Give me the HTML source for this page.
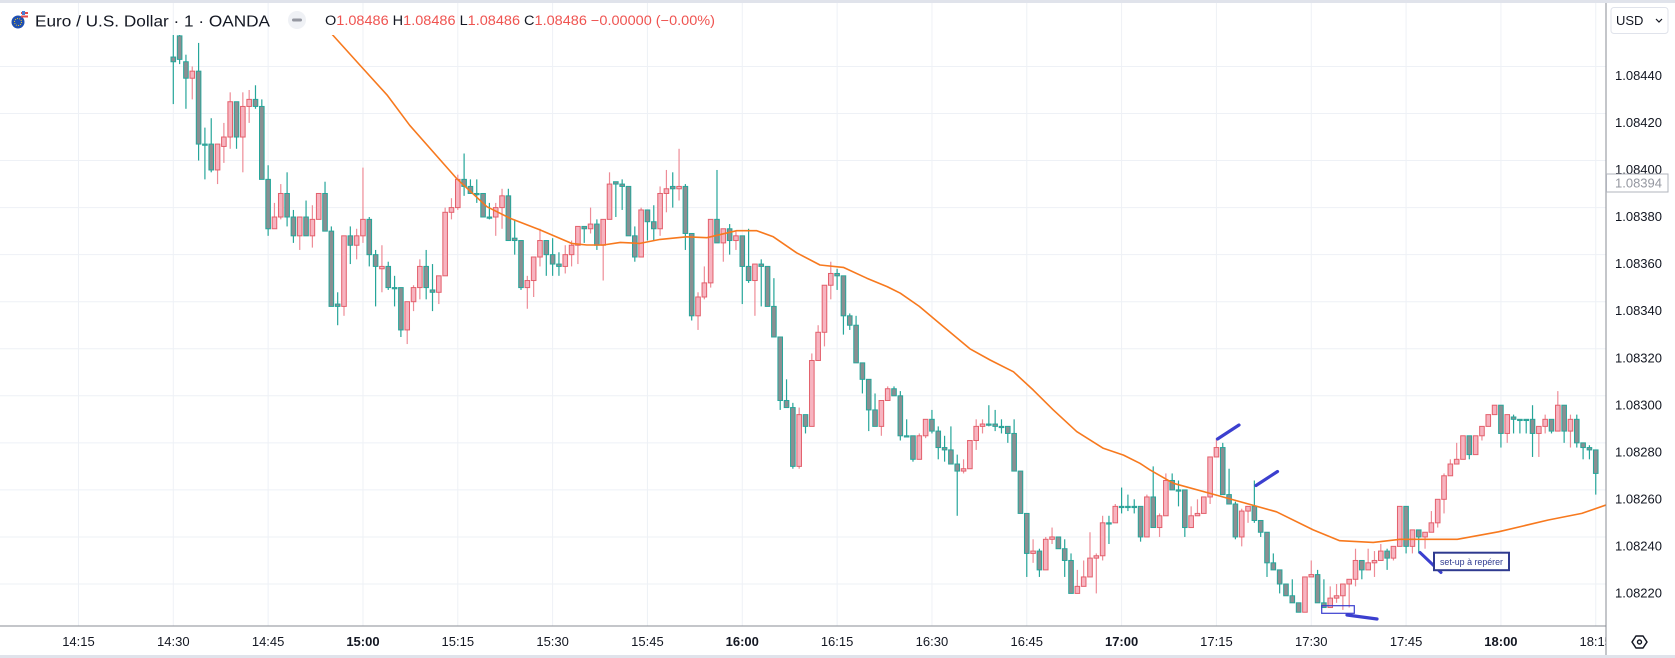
<!DOCTYPE html>
<html><head><meta charset="utf-8">
<style>
html,body{margin:0;padding:0;background:#fff;}
svg{display:block;font-family:"Liberation Sans",sans-serif;}
</style></head>
<body>
<svg id="chart" width="1675" height="658" viewBox="0 0 1675 658" xmlns="http://www.w3.org/2000/svg">
  <defs>
    <clipPath id="plotClip"><rect x="0" y="35" width="1606" height="591"/></clipPath>
    <clipPath id="timeClip"><rect x="0" y="626" width="1606" height="32"/></clipPath>
  </defs>
  <rect x="0" y="0" width="1675" height="658" fill="#ffffff"/>
  <rect x="0" y="0" width="1675" height="3" fill="#e0e3eb"/>
  <rect x="0" y="655" width="1675" height="3" fill="#e0e3eb"/>
  <g id="grid"></g>
  <g id="plot" clip-path="url(#plotClip)"></g>
  <g id="annot"></g>
  <line x1="0" y1="626" x2="1606" y2="626" stroke="#8a8d96" stroke-width="1"/>
  <line x1="1606" y1="3" x2="1606" y2="655" stroke="#8a8d96" stroke-width="1"/>
  <g id="ylabels"></g>
  <g id="xlabels" clip-path="url(#timeClip)"></g>

  <g>
    <g>
      <circle cx="18" cy="22" r="6.5" fill="#1e4fb0"/>
      <circle cx="18" cy="22" r="3.5" fill="none" stroke="#f3c623" stroke-width="1" stroke-dasharray="1 1.2"/>
      <path d="M21 12 h7 v2 h-7z M21 15.5 h7 v2 h-7z" fill="#e44a4a"/>
      <rect x="22" y="11" width="3" height="4" fill="#4a7bd6"/>
    </g>
    <text x="35" y="26.5" font-size="16" fill="#131722" textLength="235" lengthAdjust="spacingAndGlyphs">Euro / U.S. Dollar · 1 · OANDA</text>
    <circle cx="297" cy="20" r="9" fill="#eff1f5"/>
    <rect x="292" y="18.5" width="10" height="3" rx="1.5" fill="#9598a1"/>
    <text x="325" y="25" font-size="13.5" textLength="390" lengthAdjust="spacingAndGlyphs"><tspan fill="#131722">O</tspan><tspan fill="#ef5350">1.08486 </tspan><tspan fill="#131722">H</tspan><tspan fill="#ef5350">1.08486 </tspan><tspan fill="#131722">L</tspan><tspan fill="#ef5350">1.08486 </tspan><tspan fill="#131722">C</tspan><tspan fill="#ef5350">1.08486 −0.00000 (−0.00%)</tspan></text>
  </g>

  <g>
    <rect x="1611" y="7.5" width="57" height="26" rx="3" fill="#fff" stroke="#e0e3eb"/>
    <text x="1616" y="25" font-size="13" fill="#131722">USD</text>
    <path d="M1656 19 l3 3 l3 -3" fill="none" stroke="#131722" stroke-width="1.2"/>
  </g>
  <g>
    <rect x="1606.5" y="174" width="61.5" height="18" fill="#fff" stroke="#b2b5be" stroke-width="1"/>
    <text x="1615" y="187.5" font-size="13" fill="#9598a1">1.08394</text>
  </g>
  <g>
    <path d="M1632 642 l4 -6 h7 l4 6 l-4 6 h-7z" fill="none" stroke="#131722" stroke-width="1.5" stroke-linejoin="round"/>
    <circle cx="1639.5" cy="642" r="2" fill="none" stroke="#131722" stroke-width="1.4"/>
  </g>
</svg>
<script>
// ---- data (prices in 0.00001 units above BASE = 1.08220) ----
const BASE = 1.08220;
const startTime = "14:30";
const opens  = [224,233,222,215,218,187,187,176,186,190,205,190,203,206,203,172,151,156,166,156,148,156,148,155,166,150,119,118,148,144,148,155,140,134,135,126,126,108,120,126,135,125,124,131,158,160,172,169,166,166,156,156,160,165,147,146,126,129,139,146,140,136,135,140,144,152,151,153,144,155,171,170,169,148,139,159,154,151,166,169,168,169,149,114,122,128,155,145,151,146,148,135,129,136,135,118,105,78,75,50,72,67,95,107,127,132,131,114,110,94,87,74,67,78,83,80,63,63,53,63,70,65,58,57,51,48,49,61,67,68,68,67,67,64,48,30,13,14,6,19,20,15,10,-4,-1,3,11,12,26,26,33,33,33,33,20,37,24,29,44,40,40,24,29,30,37,54,58,38,34,20,31,33,27,22,9,6,0,-5,-8,-12,3,4,-8,-10,-6,-5,0,2,10,6,9,10,14,11,16,33,16,23,20,22,26,36,46,51,53,63,55,63,67,72,76,64,71,70,70,70,64,67,70,65,76,65,70,60,58,57];
const highs  = [245,245,225,220,230,194,198,187,196,209,205,209,210,212,206,178,162,170,175,159,156,163,161,166,171,152,124,148,152,151,177,156,142,144,137,131,126,120,127,138,142,136,131,160,164,174,183,172,172,166,162,162,168,168,155,146,131,139,151,146,147,141,144,146,152,152,160,155,155,175,171,172,169,152,160,159,161,169,176,175,185,170,149,124,135,155,176,151,153,150,148,151,136,138,135,130,105,87,77,75,72,98,110,127,137,134,131,115,114,94,87,81,78,84,84,82,70,63,64,70,74,67,63,67,55,53,61,70,70,76,74,70,67,70,48,30,19,15,20,24,20,19,13,6,10,22,13,29,29,34,41,38,36,33,38,50,30,47,47,44,40,33,36,37,54,62,60,49,35,32,33,44,27,22,13,6,0,2,-8,3,10,6,2,-1,0,0,2,15,10,15,14,17,15,16,33,33,23,23,22,31,36,47,53,60,63,63,63,67,72,76,76,72,72,70,70,76,67,72,70,82,76,72,72,60,59,57];
const lows   = [204,221,202,206,180,172,175,170,179,185,185,175,196,202,172,148,151,155,152,145,142,148,143,155,150,118,110,114,136,138,145,135,118,124,125,118,105,102,116,121,121,116,119,131,155,159,165,166,162,156,155,148,151,146,140,125,117,122,135,131,131,131,132,135,136,145,149,142,129,155,156,159,148,137,139,146,146,148,158,160,163,142,112,108,121,126,145,137,140,142,119,128,114,118,118,105,74,75,49,49,64,67,95,101,121,125,106,108,94,81,65,67,63,78,80,61,63,52,53,62,64,53,52,51,29,47,49,57,64,67,65,64,60,48,30,3,9,3,6,17,15,3,-4,-4,-1,3,-4,10,17,26,30,31,30,18,20,24,20,29,40,33,20,24,29,30,34,54,38,34,19,16,26,26,20,3,6,-4,-5,-8,-12,-12,3,-8,-10,-10,-8,-11,-10,-1,2,6,3,10,6,10,16,13,13,13,15,22,24,30,46,51,53,53,55,61,67,72,58,60,64,64,64,54,54,64,64,65,60,58,58,53,53,38];
const closes = [222,223,215,218,187,187,176,187,190,205,190,203,206,203,172,151,156,166,156,148,156,148,155,166,150,118,118,148,144,148,155,140,135,135,126,126,108,120,126,135,126,124,131,158,160,172,169,166,166,156,156,160,165,146,146,126,129,139,146,140,136,135,140,144,152,151,153,144,155,170,170,169,148,139,159,154,151,166,168,168,169,149,114,122,128,155,145,151,146,148,135,129,136,135,118,105,78,75,50,72,67,95,107,127,132,131,114,110,94,87,74,67,78,83,80,63,63,53,63,70,65,58,57,51,48,49,61,67,68,68,67,67,64,48,30,13,14,6,19,20,15,10,-4,-1,3,11,12,26,26,33,33,33,33,20,37,24,29,44,40,40,24,29,30,37,54,58,38,34,20,31,33,27,22,9,6,0,-5,-8,-12,3,4,-8,-10,-6,-5,0,2,10,6,9,10,14,11,16,33,16,23,20,22,26,36,46,51,53,63,55,63,67,72,76,64,72,70,70,70,64,67,70,65,76,65,70,60,58,57,47];
// moving average line: minutes since 14:30 and value
const maMinutes = [23.5,25.2,29.5,33.8,37.4,44.8,49.6,53.3,58,63,65.4,68,70.7,73.8,77,81.2,84.4,89.1,92.3,94.9,98.6,102.3,106,109.7,112.9,115,118,122,126,129.2,132.9,136,139.2,142.9,147.1,150.3,152.9,154.5,158.2,165,174.5,180.3,184.5,189.8,194,203.1,209.6,217.5,222.8,230.2];
const maValues  = [240,233.4,220.6,207.9,195,172.4,160.4,155.4,150.5,144.8,144.1,144.1,145.2,144.8,146.5,147.6,147.2,150.2,150.2,147.6,140.8,135.6,134.6,130,126.4,123.6,118,109,100,95.2,90.2,82.5,74,64.8,57.7,54.8,51.3,48.5,42.8,37.8,30.7,23,18.4,17.7,19,19,22.2,27.2,30,36.9];
const priceTicks = ["1.08440","1.08420","1.08400","1.08380","1.08360","1.08340","1.08320","1.08300","1.08280","1.08260","1.08240","1.08220"];
const timeTicks = ["14:15","14:30","14:45","15:00","15:15","15:30","15:45","16:00","16:15","16:30","16:45","17:00","17:15","17:30","17:45","18:00","18:15"];
const boldTicks = ["15:00","16:00","17:00","18:00"];

// ---- axes ----
const PX_PER_UNIT = 2.3525;
const Y0 = 584;
const X0 = 173.3;
const PX_PER_MIN = 6.322;
function yOfUnits(u){ return Y0 - u*PX_PER_UNIT; }
function yOfPrice(p){ return yOfUnits((p - BASE)*100000); }
function xOfMin(m){ return X0 + m*PX_PER_MIN; }
function minOfLabel(s){ const [h,mm]=s.split(':').map(Number); const [h0,m0]=startTime.split(':').map(Number); return (h*60+mm)-(h0*60+m0); }

const NS = "http://www.w3.org/2000/svg";
function mk(tag, attrs, parent){ const e=document.createElementNS(NS,tag); for(const k in attrs) e.setAttribute(k,attrs[k]); parent.appendChild(e); return e; }

const grid=document.getElementById('grid'), plot=document.getElementById('plot'), annot=document.getElementById('annot');
const ylab=document.getElementById('ylabels'), xlab=document.getElementById('xlabels');

priceTicks.forEach(t=>{
  const y=yOfPrice(parseFloat(t));
  const g=mk('line',{x1:0,x2:1606,y1:y,y2:y,stroke:'#eef1f6','stroke-width':1},grid);
  
  
  const tx=mk('text',{x:1615,y:y+13.5,'font-size':13,fill:'#131722'},ylab);
  tx.textContent=t;
  
  
});
timeTicks.forEach(t=>{
  const x=xOfMin(minOfLabel(t));
  const g=mk('line',{x1:x,x2:x,y1:3,y2:626,stroke:'#eef1f6','stroke-width':1},grid);
  
  
  const bold=boldTicks.includes(t);
  const tx=mk('text',{x:x,y:646,'font-size':13,'text-anchor':'middle',fill:'#131722','font-weight':bold?'bold':'normal'},xlab);
  tx.textContent=t;
  
  
});

// ---- candles ----
for(let i=0;i<closes.length;i++){
  const x=xOfMin(i);
  const isUp=closes[i]>opens[i];
  const wickCol=isUp?'#ee8c97':'#26a69a';
  const g=mk('g',{},plot);
  
  
  mk('line',{x1:x,x2:x,y1:yOfUnits(highs[i]),y2:yOfUnits(lows[i]),stroke:wickCol,'stroke-width':1.2},g);
  const yt=yOfUnits(Math.max(opens[i],closes[i])), yb=yOfUnits(Math.min(opens[i],closes[i]));
  mk('rect',{x:x-2.3,y:yt,width:4.6,height:Math.max(1.2,yb-yt),fill:isUp?'#f7b4c0':'#8a8f92',stroke:isUp?'#e3606c':'#26a69a','stroke-width':1},g);
}

// ---- moving average ----
let d='';
maMinutes.forEach((m,i)=>{ d+=(i?'L':'M')+xOfMin(m).toFixed(1)+' '+yOfUnits(maValues[i]).toFixed(1)+' '; });
const ma=mk('path',{d:d,fill:'none',stroke:'#f7791e','stroke-width':1.6,'stroke-linejoin':'round'},plot);



// ---- annotations ----
const blue='#3b3fcf';
function aLine(x1,y1,x2,y2,w,name){
  const l=mk('line',{x1,y1,x2,y2,stroke:blue,'stroke-width':w,'stroke-linecap':'round'},annot);
  
  
}
aLine(1217.5,439,1239,425,3.2,'drawing-line-1');
aLine(1256,485.5,1277.5,471.5,3.2,'drawing-line-2');
aLine(1347,615,1377,619,3.2,'drawing-line-3');
aLine(1420,552.5,1441,572.5,3,'callout-pointer');
const rb=mk('rect',{x:1321.7,y:605.7,width:32.6,height:7.6,fill:'none',stroke:blue,'stroke-width':1.2},annot);


const cb=mk('rect',{x:1434,y:552.7,width:75,height:17.5,fill:'#fff',stroke:'#2f3a8f','stroke-width':2},annot);


const ct=mk('text',{x:1440,y:565,'font-size':9.5,fill:'#2f3a8f',textLength:63,lengthAdjust:'spacingAndGlyphs'},annot);
ct.textContent='set-up à repérer';


</script>
</body></html>
